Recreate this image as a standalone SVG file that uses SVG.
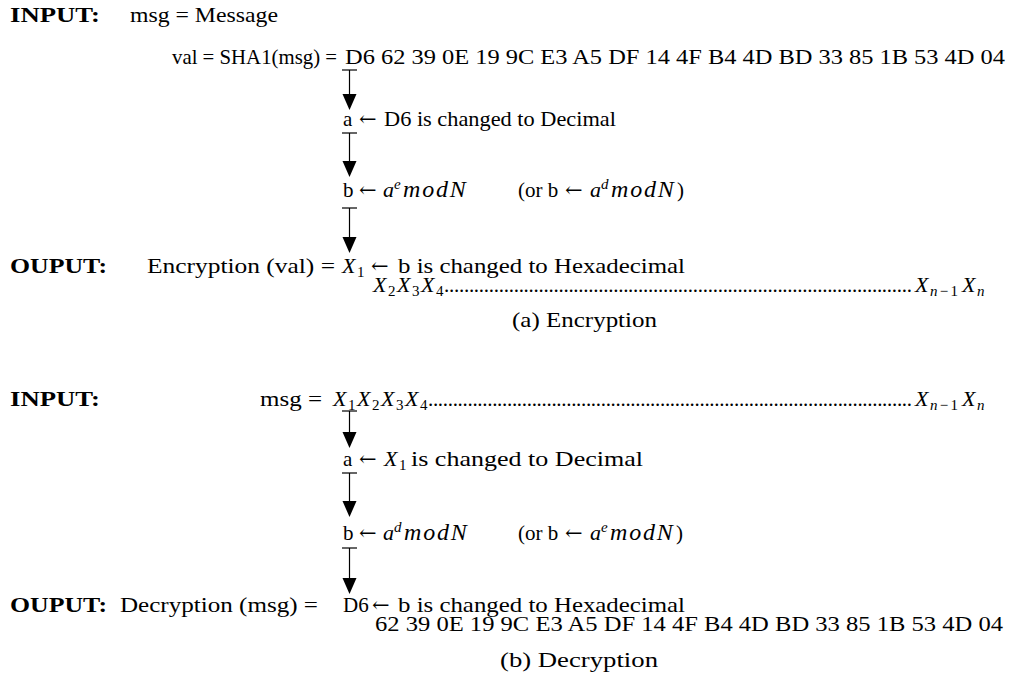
<svg xmlns="http://www.w3.org/2000/svg" width="1013" height="691" viewBox="0 0 1013 691">
  <style>
    text { font-family: "Liberation Serif", "Times New Roman", serif; font-size: 21px; fill: #000; }
    .bold { font-weight: bold; }
    .it { font-style: italic; font-size: 22px; }
    .mi { font-style: italic; font-size: 24px; letter-spacing: 1.8px; }
    .sup { font-size: 15px; font-style: italic; }
    .sub { font-size: 15px; }
    .arr { font-family: "DejaVu Serif", "Liberation Serif", serif; font-size: 21px; }
    .conn line { stroke: #000; stroke-width: 1.2; }
    .conn polygon { fill: #000; }
  </style>

  <!-- (a) Encryption -->
  <g id="enc-input">
    <text class="bold" x="10" y="22" textLength="90" lengthAdjust="spacingAndGlyphs">INPUT:</text>
    <text x="130" y="22" textLength="148" lengthAdjust="spacingAndGlyphs">msg = Message</text>
  </g>
  <g id="enc-hash">
    <text x="172" y="64" textLength="165" lengthAdjust="spacingAndGlyphs">val = SHA1(msg) =</text>
    <text x="345" y="64" textLength="660" lengthAdjust="spacingAndGlyphs">D6 62 39 0E 19 9C E3 A5 DF 14 4F B4 4D BD 33 85 1B 53 4D 04</text>
  </g>
  <g id="enc-decimal">
    <text x="343" y="126">a</text>
    <text class="arr" x="359" y="126">←</text>
    <text x="384" y="126" textLength="232" lengthAdjust="spacingAndGlyphs">D6 is changed to Decimal</text>
  </g>
  <g id="enc-power">
    <text x="343" y="197">b</text>
    <text class="arr" x="359" y="197">←</text>
    <text class="it" x="383" y="197">a</text>
    <text class="sup" x="394" y="189">e</text>
    <text class="mi" x="403" y="197">modN</text>
    <text x="518" y="197">(or b</text>
    <text class="arr" x="565" y="197">←</text>
    <text class="it" x="590" y="197">a</text>
    <text class="sup" x="601" y="189">d</text>
    <text class="mi" x="611" y="197">modN</text>
    <text x="677" y="197">)</text>
  </g>
  <g id="enc-output">
    <text class="bold" x="10" y="273" textLength="97" lengthAdjust="spacingAndGlyphs">OUPUT:</text>
    <text x="147" y="273" textLength="188" lengthAdjust="spacingAndGlyphs">Encryption (val) =</text>
    <text class="it" x="342" y="273">X</text>
    <text class="sub" x="357" y="277">1</text>
    <text class="arr" x="371" y="273">←</text>
    <text x="398" y="273" textLength="287" lengthAdjust="spacingAndGlyphs">b is changed to Hexadecimal</text>
    <text class="it" x="373" y="292">X</text>
    <text class="sub" x="388" y="296">2</text>
    <text class="it" x="397" y="292">X</text>
    <text class="sub" x="412" y="296">3</text>
    <text class="it" x="421" y="292">X</text>
    <text class="sub" x="436" y="296">4</text>
    <text x="444" y="292" textLength="468" lengthAdjust="spacing">..............................................................................................</text>
    <text class="it" x="915" y="292">X</text>
    <text class="sub" x="930" y="296" textLength="28" lengthAdjust="spacing"><tspan font-style="italic">n</tspan>−1</text>
    <text class="it" x="962" y="292">X</text>
    <text class="sub" x="977" y="296" font-style="italic">n</text>
  </g>
  <g id="enc-caption">
    <text x="512" y="327" textLength="145" lengthAdjust="spacingAndGlyphs">(a) Encryption</text>
  </g>

  <!-- (b) Decryption -->
  <g id="dec-input">
    <text class="bold" x="10" y="406" textLength="90" lengthAdjust="spacingAndGlyphs">INPUT:</text>
    <text x="260" y="406" textLength="62" lengthAdjust="spacingAndGlyphs">msg =</text>
    <text class="it" x="333" y="406">X</text>
    <text class="sub" x="348" y="410">1</text>
    <text class="it" x="357" y="406">X</text>
    <text class="sub" x="372" y="410">2</text>
    <text class="it" x="381" y="406">X</text>
    <text class="sub" x="396" y="410">3</text>
    <text class="it" x="405" y="406">X</text>
    <text class="sub" x="420" y="410">4</text>
    <text x="428" y="406" textLength="484" lengthAdjust="spacing">..................................................................................................</text>
    <text class="it" x="915" y="406">X</text>
    <text class="sub" x="930" y="410" textLength="28" lengthAdjust="spacing"><tspan font-style="italic">n</tspan>−1</text>
    <text class="it" x="962" y="406">X</text>
    <text class="sub" x="977" y="410" font-style="italic">n</text>
  </g>
  <g id="dec-decimal">
    <text x="343" y="466">a</text>
    <text class="arr" x="359" y="466">←</text>
    <text class="it" x="384" y="466">X</text>
    <text class="sub" x="399" y="470">1</text>
    <text x="411" y="466" textLength="232" lengthAdjust="spacingAndGlyphs">is changed to Decimal</text>
  </g>
  <g id="dec-power">
    <text x="343" y="540">b</text>
    <text class="arr" x="359" y="540">←</text>
    <text class="it" x="383" y="540">a</text>
    <text class="sup" x="394" y="532">d</text>
    <text class="mi" x="404" y="540">modN</text>
    <text x="518" y="540">(or b</text>
    <text class="arr" x="565" y="540">←</text>
    <text class="it" x="590" y="540">a</text>
    <text class="sup" x="601" y="532">e</text>
    <text class="mi" x="610" y="540">modN</text>
    <text x="676" y="540">)</text>
  </g>
  <g id="dec-output">
    <text class="bold" x="10" y="612" textLength="97" lengthAdjust="spacingAndGlyphs">OUPUT:</text>
    <text x="120" y="612" textLength="198" lengthAdjust="spacingAndGlyphs">Decryption (msg) =</text>
    <text x="343" y="612">D6</text>
    <text class="arr" x="372" y="612">←</text>
    <text x="398" y="612" textLength="287" lengthAdjust="spacingAndGlyphs">b is changed to Hexadecimal</text>
    <text x="375" y="631" textLength="628" lengthAdjust="spacingAndGlyphs">62 39 0E 19 9C E3 A5 DF 14 4F B4 4D BD 33 85 1B 53 4D 04</text>
  </g>
  <g id="dec-caption">
    <text x="500" y="667" textLength="158" lengthAdjust="spacingAndGlyphs">(b) Decryption</text>
  </g>

  <!-- connectors: tick at the source, shaft, filled head -->
  <g id="connectors" class="conn">
    <line x1="342" y1="70" x2="357" y2="70"/>
    <line x1="349.5" y1="70" x2="349.5" y2="96"/>
    <polygon points="342.5,94 356.5,94 349.5,110"/>

    <line x1="342" y1="133" x2="357" y2="133"/>
    <line x1="349.5" y1="133" x2="349.5" y2="163"/>
    <polygon points="342.5,161 356.5,161 349.5,177"/>

    <line x1="342" y1="208" x2="357" y2="208"/>
    <line x1="349.5" y1="208" x2="349.5" y2="239"/>
    <polygon points="342.5,237 356.5,237 349.5,253"/>

    <line x1="342" y1="411" x2="357" y2="411"/>
    <line x1="349.5" y1="411" x2="349.5" y2="434"/>
    <polygon points="342.5,432 356.5,432 349.5,448"/>

    <line x1="342" y1="473" x2="357" y2="473"/>
    <line x1="349.5" y1="473" x2="349.5" y2="503"/>
    <polygon points="342.5,501 356.5,501 349.5,517"/>

    <line x1="342" y1="548" x2="357" y2="548"/>
    <line x1="349.5" y1="548" x2="349.5" y2="580"/>
    <polygon points="342.5,578 356.5,578 349.5,594"/>
  </g>
</svg>
